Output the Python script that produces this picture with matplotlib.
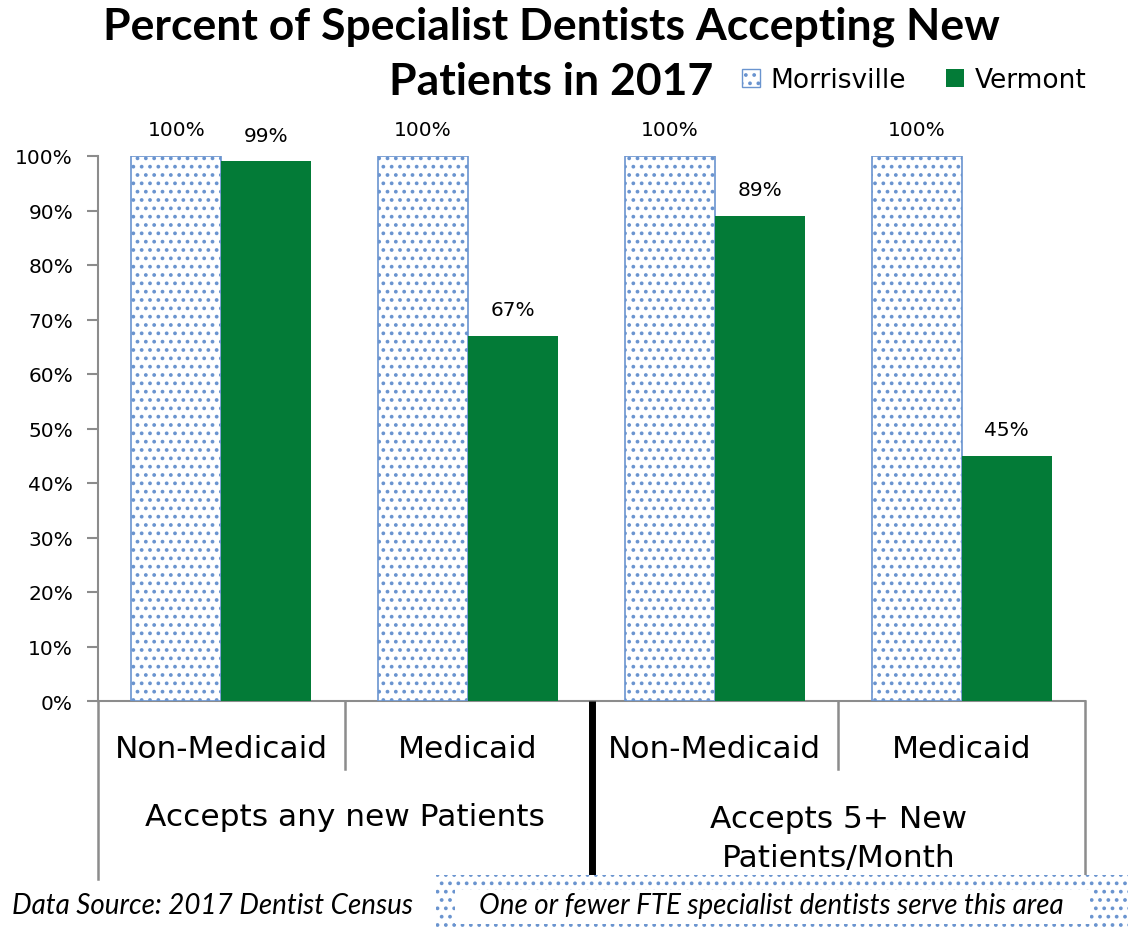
import matplotlib
matplotlib.use("Agg")
import matplotlib.pyplot as plt
import matplotlib.patches as mpatches
import matplotlib.transforms as mtransforms
import numpy as np

# ── Data ──────────────────────────────────────────────────────────────
sub_labels = ["Non-Medicaid", "Medicaid", "Non-Medicaid", "Medicaid"]
group_labels = ["Accepts any new Patients", "Accepts 5+ New\nPatients/Month"]
morrisville = [100, 100, 100, 100]
vermont = [99, 67, 89, 45]

# ── Style ─────────────────────────────────────────────────────────────
BLUE = "#6A94CF"
GREEN = "#037B37"
GRAY = "#8C8C8C"
plt.rcParams["hatch.linewidth"] = 1.5
plt.rcParams["font.family"] = ["DejaVu Sans"]

W, H = 1128, 928
fig = plt.figure(figsize=(W / 100, H / 100), dpi=100, facecolor="white")

# axes box in pixel terms -> figure fractions
left, right, top, bottom = 98, 1085, 157, 702
ax = fig.add_axes([left / W, 1 - bottom / H, (right - left) / W, (bottom - top) / H])

x = np.arange(len(sub_labels))
w = 0.365
bm = ax.bar(x - w / 2, morrisville, w, facecolor="white", edgecolor=BLUE,
            hatch="..", linewidth=1.2, zorder=3)
bv = ax.bar(x + w / 2, vermont, w, color=GREEN, zorder=3)

for bars, vals in [(bm, morrisville), (bv, vermont)]:
    for b, v in zip(bars, vals):
        ax.annotate(f"{v}%", (b.get_x() + b.get_width() / 2, v),
                    xytext=(0, 12), textcoords="offset points",
                    ha="center", va="bottom", fontsize=14.5, clip_on=False)

ax.set_xlim(-0.5, 3.5)
ax.set_ylim(0, 100)
ax.set_yticks(range(0, 101, 10))
ax.set_yticklabels([f"{v}%" for v in range(0, 101, 10)], fontsize=14.5)
ax.tick_params(axis="y", length=8, color=GRAY, width=1.5, pad=10)
ax.set_xticks(x)
ax.set_xticklabels(sub_labels, fontsize=22.5)
ax.tick_params(axis="x", length=0, pad=24)

for s in ["top", "right"]:
    ax.spines[s].set_visible(False)
ax.spines["left"].set_color(GRAY)
ax.spines["bottom"].set_color(GRAY)
ax.spines["left"].set_linewidth(1.5)
ax.spines["bottom"].set_linewidth(1.5)

# category-axis frame lines (data x, axes y)
trans = mtransforms.blended_transform_factory(ax.transData, ax.transAxes)
ph = bottom - top
for xs, ybot in [(-0.5, 880), (0.5, 770), (2.5, 770), (3.5, 875)]:
    ax.plot([xs, xs], [0, -(ybot - bottom) / ph], color=GRAY, lw=1.8,
            transform=trans, clip_on=False)
ax.plot([1.5, 1.5], [0, -(884 - bottom) / ph], color="black", lw=5,
        transform=trans, clip_on=False, solid_capstyle="butt", zorder=5)

ax.text(0.5, -(817 - bottom) / ph, group_labels[0], transform=trans,
        ha="center", va="center", fontsize=22.5)
ax.text(2.5, -(839 - bottom) / ph, group_labels[1], transform=trans,
        ha="center", va="center", fontsize=22.5, linespacing=1.45)

# title
fig.text(551 / W, 1 - 27 / H, "Percent of Specialist Dentists Accepting New",
         ha="center", va="center", fontsize=32, fontweight="bold", family="Lato")
fig.text(551 / W, 1 - 82 / H, "Patients in 2017",
         ha="center", va="center", fontsize=32, fontweight="bold", family="Lato")

# legend
h1 = mpatches.Patch(facecolor="white", edgecolor=BLUE, hatch="..", label="Morrisville")
h2 = mpatches.Patch(facecolor=GREEN, label="Vermont")
fig.legend(handles=[h1, h2], loc="center left", bbox_to_anchor=(718 / W, 1 - 81 / H),
           ncol=2, frameon=False, fontsize=19, handlelength=0.7, handleheight=0.7,
           handletextpad=0.4, columnspacing=1.5)

# footnotes
fig.text(12 / W, 1 - 906 / H, "Data Source: 2017 Dentist Census", ha="left",
         va="center", fontsize=20, style="italic", family="Lato")
box = mpatches.Rectangle((436 / W, 0), (W - 436) / W, (928 - 876) / H,
                         transform=fig.transFigure, facecolor="white",
                         edgecolor=BLUE, hatch="..", linewidth=0)
fig.patches.append(box)
inner = mpatches.Rectangle((455 / W, 3 / H), (1090 - 455) / W, 34 / H,
                           transform=fig.transFigure, facecolor="white",
                           edgecolor="none")
fig.patches.append(inner)
fig.text(771 / W, 1 - 906 / H, "One or fewer FTE specialist dentists serve this area",
         ha="center", va="center", fontsize=20, style="italic", family="Lato")

fig.savefig("out.png", dpi=100, facecolor="white")
